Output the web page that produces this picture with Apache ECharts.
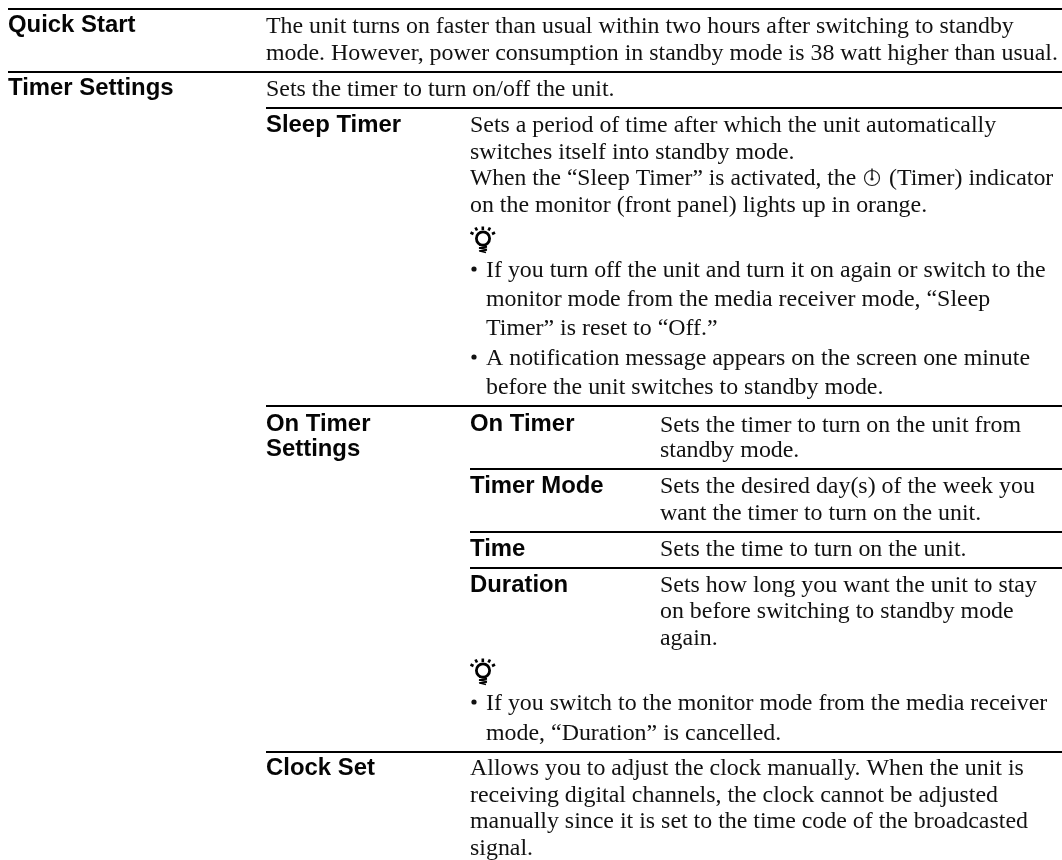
<!DOCTYPE html>
<html><head><meta charset="utf-8">
<style>html,body{margin:0;padding:0;background:#fff}#c{width:1062px;height:860px}</style>
<script src="https://cdn.jsdelivr.net/npm/echarts@6/dist/echarts.min.js"></script>
</head><body><div id="c"></div>
<script>
// ---- text content ----
var headings = ["Quick Start","Timer Settings","Sleep Timer","On Timer","Settings","On Timer","Timer Mode","Time","Duration","Clock Set"];
var quickStart = ["The unit turns on faster than usual within two hours after switching to standby","mode. However, power consumption in standby mode is 38 watt higher than usual."];
var timerSettings = ["Sets the timer to turn on/off the unit."];
var sleepTimer = ["Sets a period of time after which the unit automatically","switches itself into standby mode.","When the “Sleep Timer” is activated, the","on the monitor (front panel) lights up in orange."];
var sleepTimerTail = "(Timer) indicator";
var sleepTips = ["If you turn off the unit and turn it on again or switch to the","monitor mode from the media receiver mode, “Sleep","Timer” is reset to “Off.”","A notification message appears on the screen one minute","before the unit switches to standby mode."];
var onTimer = ["Sets the timer to turn on the unit from","standby mode."];
var timerMode = ["Sets the desired day(s) of the week you","want the timer to turn on the unit."];
var timeRow = ["Sets the time to turn on the unit."];
var duration = ["Sets how long you want the unit to stay","on before switching to standby mode","again."];
var durationTips = ["If you switch to the monitor mode from the media receiver","mode, “Duration” is cancelled."];
var clockSet = ["Allows you to adjust the clock manually. When the unit is","receiving digital channels, the clock cannot be adjusted","manually since it is set to the time code of the broadcasted","signal."];

// ---- layout ----
var X = {a:8, b:266, c:470, d:660, bullet:474, tip:486, end:1062};
var SERIF = 'Liberation Serif', SANS = 'Liberation Sans';
var bodySize = 23.9, headSize = 23.9, shift = 2;
var g = [];
function body(s,x,base,sx){g.push({type:'text',silent:true,x:x,scaleX:sx||1,style:{text:s,x:0,y:base+shift-0.3375*bodySize,font:bodySize+'px "'+SERIF+'"',fill:'#111',verticalAlign:'middle'}});}
function head(s,x,base){g.push({type:'text',silent:true,style:{text:s,x:x,y:base+shift-0.3465*headSize,font:'bold '+headSize+'px "'+SANS+'"',fill:'#050505',verticalAlign:'middle'}});}
function rule(x,y){g.push({type:'rect',silent:true,shape:{x:x,y:y-1,width:X.end-x,height:2},style:{fill:'#000'}});}
function lines(arr,x,bases){arr.forEach(function(s,i){body(s,x,bases[i]);});}
function bullet(x,y){g.push({type:'circle',silent:true,shape:{cx:x,cy:y,r:2.6},style:{fill:'#111'}});}
function seg(x1,y1,x2,y2,w){g.push({type:'line',silent:true,shape:{x1:x1,y1:y1,x2:x2,y2:y2},style:{stroke:'#000',lineWidth:w}});}
function tipIcon(x,y){ // x = left, y = top of the bulb icon
  g.push({type:'circle',silent:true,shape:{cx:x+13,cy:y+12.5,r:6.6},style:{stroke:'#000',lineWidth:2.8,fill:'none'}});
  [[12.8,0.5,12.8,4],[5.5,1.5,7,4.5],[20,1.5,18.5,4.5],[0.5,6.5,3.5,8],[25,6.5,22,8]].forEach(function(r){
    seg(x+r[0],y+r[1],x+r[2],y+r[3],2.6);
  });
  [[9,19,17,20.5],[9,22,17,21],[9,22,17,23.5],[9,25,17,24],[10,25,16,26.5]].forEach(function(r){
    seg(x+r[0],y+r[1],x+r[2],y+r[3],1.7);
  });
}
function timerIcon(cx,cy){
  g.push({type:'circle',silent:true,shape:{cx:cx,cy:cy,r:7.5},style:{stroke:'#222',lineWidth:1.2,fill:'none'}});
  g.push({type:'line',silent:true,shape:{x1:cx,y1:cy-9.5,x2:cx,y2:cy},style:{stroke:'#222',lineWidth:1.5}});
  g.push({type:'circle',silent:true,shape:{cx:cx,cy:cy+1,r:1.6},style:{fill:'#222'}});
}

rule(X.a,9); rule(X.a,72); rule(X.b,108); rule(X.b,406); rule(X.c,469); rule(X.c,532); rule(X.c,568); rule(X.b,752);

head(headings[0],X.a,32); head(headings[1],X.a,95); head(headings[2],X.b,132);
head(headings[3],X.b,431); head(headings[4],X.b,456);
head(headings[5],X.c,431); head(headings[6],X.c,493); head(headings[7],X.c,556); head(headings[8],X.c,592);
head(headings[9],X.b,775);

lines(quickStart,X.b,[33,60]);
lines(timerSettings,X.b,[96]);
body(sleepTimer[0],X.c,132); body(sleepTimer[1],X.c,159);
body(sleepTimer[2],X.c,185,0.987); body(sleepTimer[3],X.c,212);
body(sleepTimerTail,889,185);
timerIcon(872,178);
tipIcon(X.c,226);
bullet(X.bullet,269); bullet(X.bullet,357);
lines(sleepTips,X.tip,[277,306,335,365,394]);
lines(onTimer,X.d,[432,457]);
lines(timerMode,X.d,[493,520]);
lines(timeRow,X.d,[556]);
lines(duration,X.d,[592,618,645]);
tipIcon(X.c,658);
bullet(X.bullet,702);
lines(durationTips,X.tip,[710,740]);
lines(clockSet,X.c,[775,802,828,855]);

var chart = echarts.init(document.getElementById('c'),null,{renderer:'canvas'});
chart.setOption({animation:false,backgroundColor:'#fff',graphic:{elements:g}});
</script></body></html>
